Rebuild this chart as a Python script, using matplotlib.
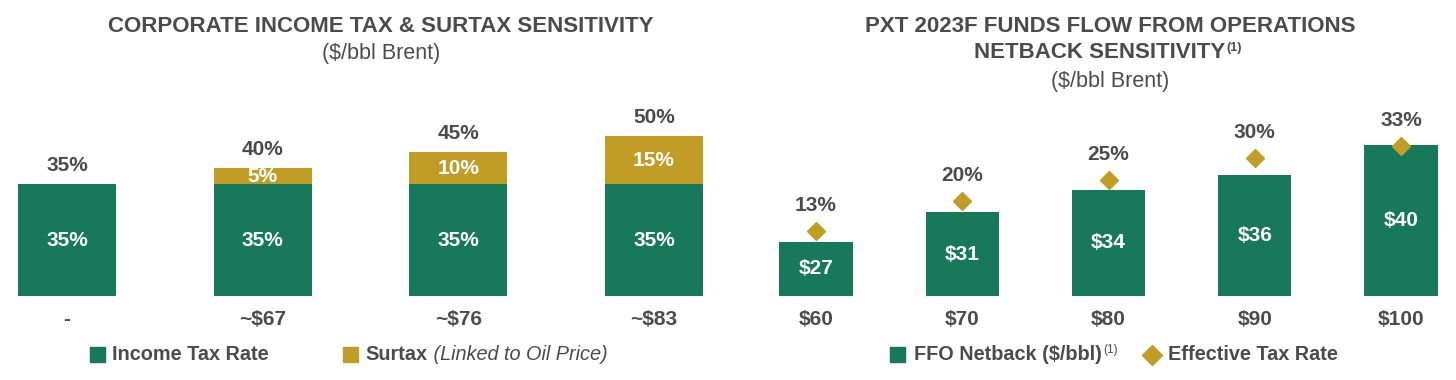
import matplotlib.pyplot as plt
from matplotlib.patches import Rectangle
from matplotlib.lines import Line2D

# left chart: corporate income tax & surtax
price_labels = ["-", "~$67", "~$76", "~$83"]
income_tax = [35, 35, 35, 35]
surtax = [0, 5, 10, 15]

# right chart: FFO netback sensitivity
brent = ["$60", "$70", "$80", "$90", "$100"]
ffo_netback = [27, 31, 34, 36, 40]
effective_tax = [13, 20, 25, 30, 33]

GREEN = "#17785A"
GOLD = "#C29D26"
GREY = "#4B4B4B"
LBL = 15

plt.rcParams["font.family"] = ["Liberation Sans", "DejaVu Sans"]

W, H = 1456, 380
fig = plt.figure(figsize=(W / 100, H / 100), dpi=100)


def px_axes(x0, y0, x1, y1):
    # pixel box measured from the top-left corner
    return fig.add_axes([x0 / W, 1 - y1 / H, (x1 - x0) / W, (y1 - y0) / H])


def fx(x):
    return x / W


def fy(y):
    return 1 - y / H


def clean(ax):
    for s in ax.spines.values():
        s.set_visible(False)
    ax.set_yticks([])
    ax.tick_params(axis="x", length=0, pad=10, labelsize=LBL, labelcolor=GREY)
    for lab in ax.get_xticklabels():
        lab.set_fontweight("bold")
    ax.patch.set_alpha(0)


# ---- left chart
ax1 = px_axes(0, 100, 720, 296)
x1 = list(range(len(price_labels)))
ax1.bar(x1, income_tax, 0.5, color=GREEN)
ax1.bar(x1, surtax, 0.5, bottom=income_tax, color=GOLD)
ax1.set_xlim(-0.342, 3.337)
ax1.set_ylim(0, 61.25)
ax1.set_xticks(x1, price_labels)
clean(ax1)
for i, (it, st) in enumerate(zip(income_tax, surtax)):
    ax1.text(i, it / 2, f"{it}%", ha="center", va="center", color="white",
             fontsize=LBL, fontweight="bold")
    if st > 0:
        ax1.text(i, it + st / 2, f"{st}%", ha="center", va="center",
                 color="white", fontsize=LBL, fontweight="bold")
    ax1.annotate(f"{it + st}%", (i, it + st), xytext=(0, 13),
                 textcoords="offset points", ha="center", va="center",
                 color=GREY, fontsize=LBL, fontweight="bold")

# ---- right chart
ax2 = px_axes(740, 100, 1450, 296)
x2 = list(range(len(brent)))
ax2.bar(x2, ffo_netback, 0.5, color=GREEN)
ax2.set_xlim(-0.52, 4.335)
ax2.set_ylim(19.76, 46.03)
ax2.set_xticks(x2, brent)
clean(ax2)
for i, v in enumerate(ffo_netback):
    ax2.text(i, (v + 19.76) / 2, f"${v}", ha="center", va="center",
             color="white", fontsize=LBL, fontweight="bold")

ax3 = ax2.twinx()
ax3.plot(x2, effective_tax, "D", color=GOLD, markersize=9.5, clip_on=False)
ax3.set_ylim(-2.35, 43.76)
ax3.set_yticks([])
for s in ax3.spines.values():
    s.set_visible(False)
for i, v in enumerate(effective_tax):
    ax3.annotate(f"{v}%", (i, v), xytext=(0, 18.5), textcoords="offset points",
                 ha="center", va="center", color=GREY, fontsize=LBL,
                 fontweight="bold")

# ---- titles
title_kw = dict(ha="center", va="center", color=GREY, fontsize=16, fontweight="bold")
sub_kw = dict(ha="center", va="center", color=GREY, fontsize=15.5)
fig.text(fx(381), fy(26), "CORPORATE INCOME TAX & SURTAX SENSITIVITY", **title_kw)
fig.text(fx(381), fy(53), "($/bbl Brent)", **sub_kw)
fig.text(fx(1110), fy(26), "PXT 2023F FUNDS FLOW FROM OPERATIONS", **title_kw)
t_net = fig.text(fx(1100), fy(53), "NETBACK SENSITIVITY", **title_kw)
fig.text(fx(1110), fy(81), "($/bbl Brent)", **sub_kw)

# ---- legends
leg_kw = dict(va="center", color=GREY, fontsize=14.3, fontweight="bold")
fig.patches.append(Rectangle((fx(90), fy(362)), 15 / W, 15 / H, color=GREEN,
                             transform=fig.transFigure, figure=fig))
fig.text(fx(112), fy(355), "Income Tax Rate", **leg_kw)
fig.patches.append(Rectangle((fx(343), fy(362)), 15 / W, 15 / H, color=GOLD,
                             transform=fig.transFigure, figure=fig))
t_sur = fig.text(fx(365), fy(355), "Surtax", **leg_kw)

fig.patches.append(Rectangle((fx(890), fy(362)), 15 / W, 15 / H, color=GREEN,
                             transform=fig.transFigure, figure=fig))
t_ffo = fig.text(fx(914), fy(355), "FFO Netback ($/bbl)", **leg_kw)
fig.lines.append(Line2D([fx(1152)], [fy(355)], marker="D", markersize=10,
                        color=GOLD, transform=fig.transFigure, figure=fig))
fig.text(fx(1168), fy(355), "Effective Tax Rate", **leg_kw)

fig.canvas.draw()
renderer = fig.canvas.get_renderer()


def after(t, s, dy=0, **kw):
    # place a text run right after an existing one
    bb = t.get_window_extent(renderer)
    return fig.text(bb.x1 / W + 1 / W, t.get_position()[1] + dy / H, s, **kw)


after(t_sur, " (Linked to Oil Price)", va="center", color=GREY, fontsize=14.3,
      fontstyle="italic")
after(t_ffo, "(1)", dy=5, va="center", color=GREY, fontsize=8.5)
after(t_net, "(1)", dy=5, va="center", color=GREY, fontsize=9, fontweight="bold")

fig.savefig("out.png", dpi=100)
